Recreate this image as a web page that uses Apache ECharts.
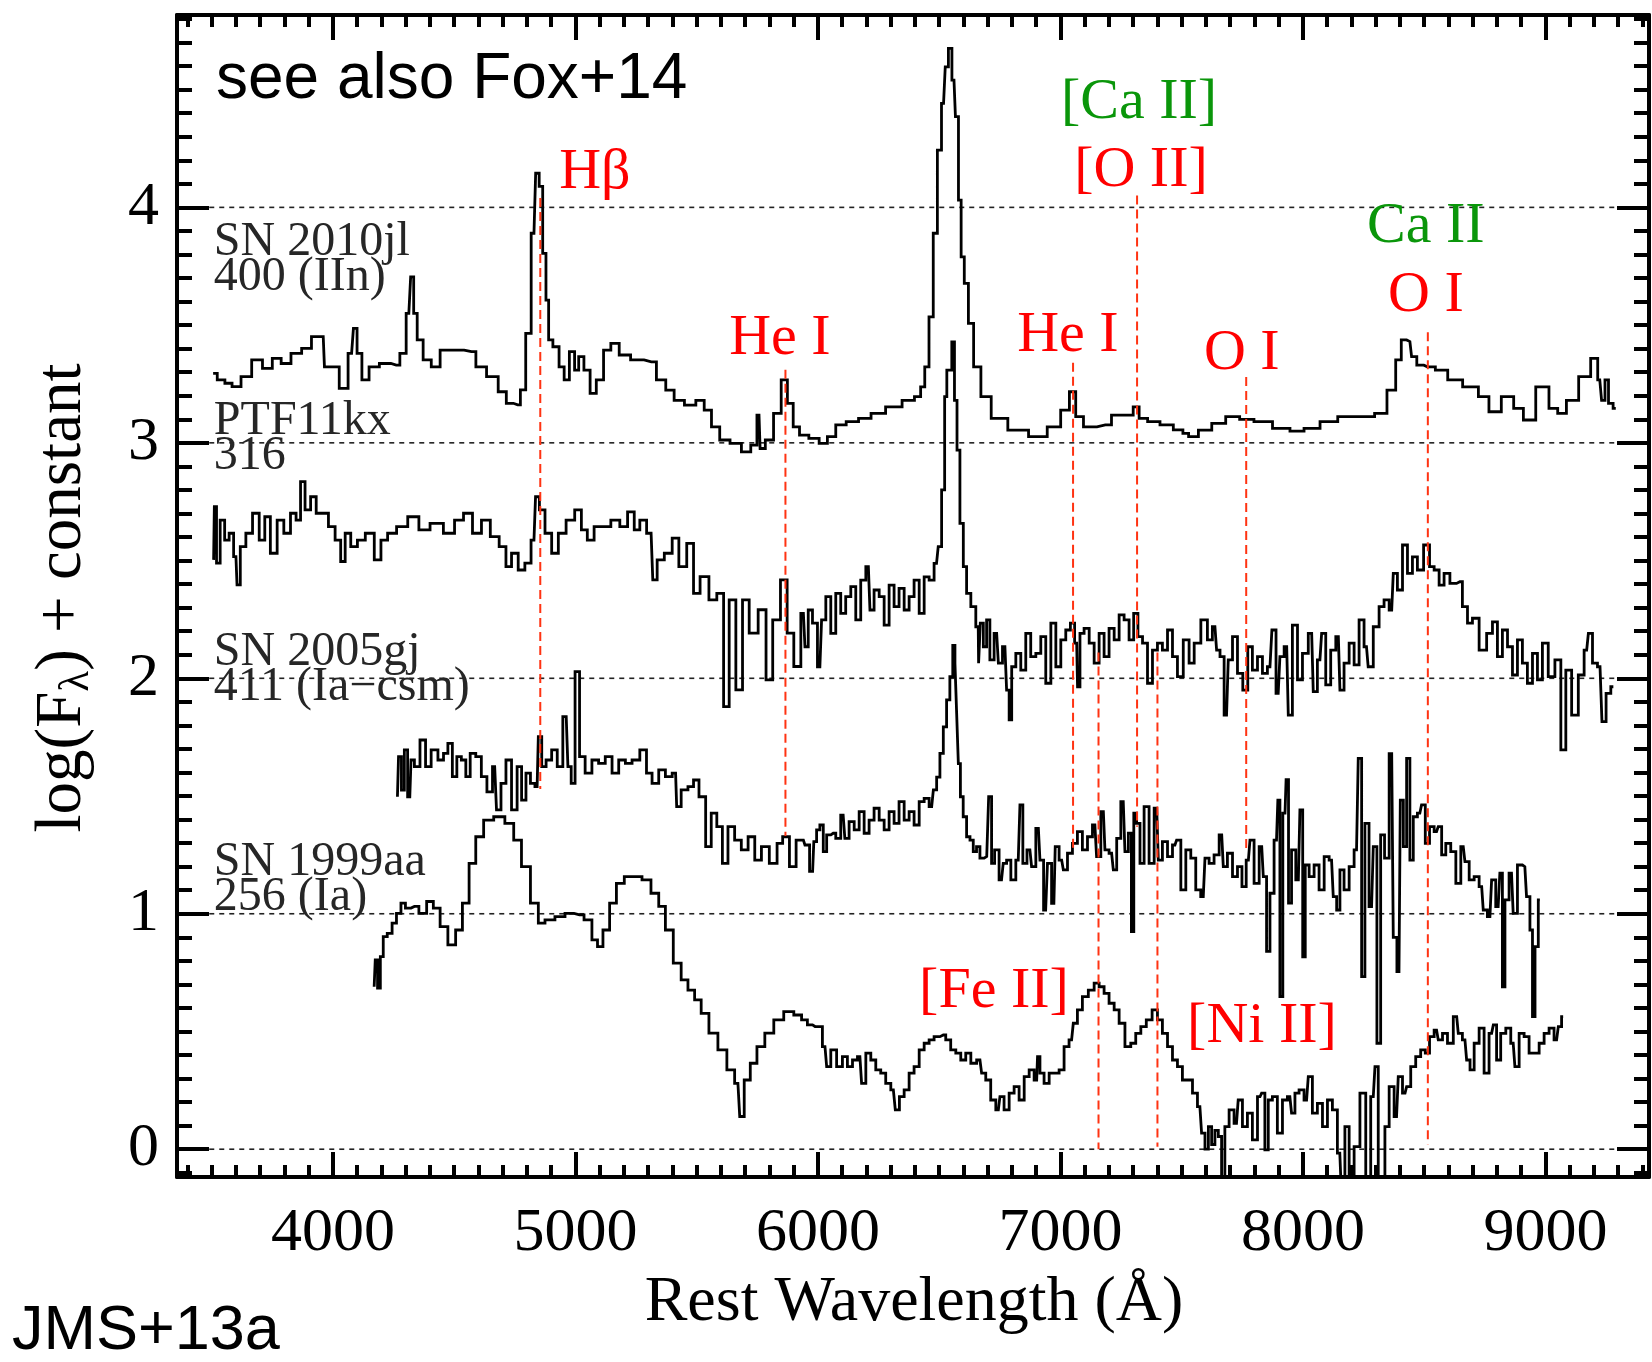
<!DOCTYPE html>
<html>
<head>
<meta charset="utf-8">
<script src="https://cdn.jsdelivr.net/npm/echarts@6/dist/echarts.min.js"></script>
<style>
  html, body { margin: 0; padding: 0; background: #ffffff; }
  #chart { width: 1652px; height: 1362px; }
</style>
</head>
<body>
<div id="chart"></div>
<script>
// ---- Spectra: rest wavelength (Angstrom) and log(F_lambda) + constant ----
const sn2010jlWave = [3506,3540,3569,3599,3643,3687,3732,3768,3805,3849,3893,3930,3960,3970,4004,4048,4077,4092,4107,4132,4166,4217,4261,4291,4313,4328,4338,4357,4387,4424,4460,4511,4571,4608,4659,4704,4726,4762,4784,4806,4829,4843,4858,4872,4885,4894,4920,4945,4962,4988,5005,5022,5048,5073,5099,5133,5159,5202,5253,5313,5355,5390,5424,5475,5518,5544,5578,5612,5663,5706,5740,5757,5766,5800,5834,5863,5885,5911,5937,5988,6022,6056,6091,6142,6193,6245,6313,6381,6415,6432,6449,6467,6484,6501,6518,6532,6544,6561,6573,6586,6595,6612,6629,6655,6689,6740,6826,6911,6980,7022,7052,7074,7116,7185,7236,7287,7313,7336,7383,7438,7493,7517,7540,7598,7650,7713,7765,7831,7918,7975,8034,8107,8180,8266,8325,8368,8397,8414,8441,8455,8484,8513,8579,8615,8702,8745,8789,8847,8891,8927,8993,9036,9065,9108,9166,9207,9224,9239,9252,9268,9290];
const sn2010jlFlux = [3.295,3.267,3.253,3.239,3.281,3.352,3.316,3.359,3.337,3.38,3.401,3.451,3.451,3.323,3.323,3.231,3.38,3.486,3.38,3.267,3.323,3.337,3.33,3.38,3.55,3.705,3.55,3.437,3.352,3.323,3.394,3.394,3.387,3.323,3.281,3.217,3.168,3.161,3.225,3.465,3.89,4.145,4.089,3.805,3.606,3.437,3.408,3.323,3.267,3.387,3.309,3.366,3.309,3.21,3.267,3.394,3.422,3.373,3.352,3.344,3.267,3.224,3.18,3.16,3.18,3.139,3.068,3.012,2.998,2.962,2.99,3.118,2.976,3.012,3.125,3.267,3.168,3.068,3.033,3.019,2.998,3.026,3.076,3.09,3.104,3.125,3.153,3.18,3.196,3.238,3.323,3.535,3.89,4.243,4.442,4.597,4.675,4.54,4.385,4.031,3.79,3.677,3.507,3.323,3.196,3.104,3.054,3.026,3.068,3.139,3.217,3.111,3.068,3.076,3.118,3.118,3.153,3.104,3.09,3.076,3.055,3.04,3.026,3.054,3.083,3.111,3.1,3.09,3.061,3.05,3.061,3.09,3.111,3.111,3.125,3.224,3.352,3.437,3.43,3.366,3.33,3.323,3.309,3.267,3.238,3.196,3.132,3.196,3.146,3.097,3.238,3.146,3.125,3.18,3.281,3.359,3.267,3.18,3.267,3.168,3.146];

const ptf11kxWave = [3508,3514,3526,3544,3563,3581,3600,3609,3627,3655,3682,3710,3728,3756,3784,3811,3839,3857,3876,3894,3922,3940,3968,3995,4023,4041,4060,4087,4115,4152,4189,4207,4244,4281,4336,4373,4428,4483,4520,4557,4594,4631,4667,4704,4723,4750,4778,4805,4829,4842,4861,4888,4916,4943,4980,5014,5035,5063,5091,5127,5165,5201,5229,5256,5275,5312,5326,5348,5385,5413,5440,5478,5496,5532,5569,5597,5625,5643,5680,5698,5735,5772,5800,5827,5864,5882,5919,5940,5953,5967,5988,6008,6022,6043,6063,6084,6104,6125,6146,6166,6187,6208,6221,6242,6263,6283,6304,6324,6345,6366,6386,6407,6428,6448,6469,6489,6503,6517,6528,6535,6547,6557,6569,6578,6593,6606,6620,6641,6661,6664,6675,6689,6702,6716,6737,6751,6771,6785,6792,6806,6826,6847,6867,6888,6909,6929,6950,6971,6991,7012,7032,7050,7067,7074,7087,7108,7129,7149,7170,7190,7211,7232,7252,7273,7293,7311,7328,7349,7369,7390,7410,7431,7452,7472,7493,7520,7541,7562,7596,7616,7637,7651,7665,7685,7699,7720,7740,7764,7781,7802,7823,7843,7864,7880,7898,7912,7933,7946,7967,7988,8008,8036,8049,8070,8084,8104,8125,8146,8159,8180,8201,8221,8242,8262,8276,8304,8324,8345,8366,8379,8400,8421,8441,8462,8482,8513,8531,8551,8572,8592,8620,8647,8668,8689,8709,8744,8771,8792,8812,8833,8854,8874,8895,8915,8936,8957,8977,8998,9025,9053,9074,9094,9122,9149,9170,9184,9204,9225,9241,9259,9280];
const ptf11kxFlux = [2.503,2.729,2.489,2.672,2.587,2.616,2.517,2.397,2.559,2.616,2.701,2.587,2.686,2.531,2.672,2.616,2.701,2.672,2.835,2.715,2.771,2.701,2.701,2.644,2.587,2.496,2.616,2.559,2.587,2.616,2.503,2.587,2.616,2.644,2.686,2.63,2.658,2.616,2.672,2.701,2.616,2.672,2.602,2.559,2.474,2.531,2.46,2.489,2.587,2.771,2.715,2.616,2.531,2.616,2.672,2.715,2.63,2.587,2.644,2.644,2.672,2.644,2.707,2.63,2.672,2.616,2.418,2.503,2.531,2.595,2.474,2.573,2.361,2.432,2.333,2.361,1.88,2.333,1.951,2.333,2.192,2.291,1.993,2.248,2.418,2.192,2.05,2.276,2.134,2.29,2.234,2.049,2.248,2.347,2.191,2.361,2.276,2.347,2.389,2.248,2.417,2.474,2.29,2.375,2.347,2.226,2.396,2.304,2.382,2.29,2.347,2.417,2.276,2.431,2.417,2.488,2.559,2.8,3.196,3.309,3.309,3.429,3.18,2.969,2.658,2.474,2.361,2.304,2.219,2.064,2.234,2.134,2.248,2.078,2.191,2.064,2.134,1.95,1.823,2.049,2.106,2.035,2.191,2.092,2.106,2.177,1.979,2.234,2.049,2.163,2.205,2.234,2.149,1.964,2.191,2.212,2.149,2.064,2.191,2.092,2.212,2.163,2.269,2.248,2.163,2.276,2.177,2.149,1.979,2.12,2.149,2.12,2.205,2.092,2.007,2.163,2.064,2.149,2.248,2.163,2.219,2.12,2.092,1.844,2.078,2.177,2.021,1.95,2.134,2.035,2.092,2.021,2.049,2.205,1.936,2.092,2.134,1.844,2.226,1.993,2.106,2.191,1.943,2.078,2.191,1.972,2.12,2.177,1.95,2.064,2.149,2.057,2.248,2.134,2.049,2.219,2.304,2.333,2.29,2.446,2.375,2.566,2.446,2.516,2.46,2.566,2.474,2.46,2.396,2.446,2.403,2.41,2.304,2.234,2.255,2.12,2.191,2.24,2.092,2.205,2.134,2.014,2.163,2.064,1.979,2.106,1.993,2.149,2.007,2.078,1.696,2.035,1.844,2.014,2.12,2.191,2.064,2.049,1.816,1.936,1.964];

const sn2005gjWave = [4266,4275,4290,4299,4317,4327,4345,4373,4391,4419,4447,4465,4483,4502,4520,4539,4557,4575,4603,4621,4649,4667,4682,4704,4723,4750,4769,4787,4805,4824,4842,4852,4870,4888,4916,4934,4962,4976,4989,5008,5026,5054,5082,5109,5137,5165,5192,5220,5247,5284,5302,5330,5357,5385,5413,5422,5450,5478,5496,5523,5551,5569,5597,5615,5643,5670,5698,5726,5753,5781,5818,5845,5864,5901,5919,5940,5953,5978,5988,6001,6015,6029,6043,6063,6084,6104,6118,6139,6160,6180,6201,6221,6242,6263,6283,6304,6324,6345,6366,6386,6407,6428,6448,6469,6483,6496,6510,6524,6537,6551,6561,6569,6575,6583,6592,6606,6620,6634,6647,6661,6675,6696,6712,6720,6737,6757,6771,6785,6806,6826,6840,6850,6874,6888,6909,6922,6939,6954,6973,6984,7005,7019,7039,7060,7080,7101,7122,7142,7156,7177,7190,7211,7225,7239,7259,7273,7287,7298,7307,7321,7335,7355,7376,7397,7410,7431,7452,7472,7486,7507,7527,7548,7568,7589,7603,7623,7644,7665,7678,7699,7720,7740,7757,7775,7788,7809,7830,7843,7857,7871,7891,7902,7908,7926,7935,7946,7960,7981,7994,8004,8015,8036,8056,8077,8098,8118,8132,8146,8159,8180,8201,8221,8235,8249,8262,8283,8297,8313,8328,8345,8366,8379,8396,8407,8421,8434,8448,8462,8482,8496,8513,8531,8551,8565,8579,8599,8620,8641,8661,8675,8696,8716,8737,8750,8771,8785,8805,8819,8826,8840,8860,8874,8895,8915,8929,8943,8950,8964,8977];
const sn2005gjFlux = [1.497,1.667,1.525,1.696,1.497,1.653,1.625,1.738,1.625,1.696,1.653,1.681,1.724,1.582,1.667,1.653,1.582,1.681,1.667,1.582,1.518,1.625,1.441,1.554,1.653,1.441,1.625,1.483,1.597,1.554,1.54,1.752,1.625,1.653,1.696,1.625,1.837,1.625,1.554,2.028,1.667,1.597,1.653,1.639,1.667,1.597,1.653,1.639,1.653,1.696,1.597,1.554,1.611,1.582,1.597,1.455,1.526,1.54,1.568,1.497,1.285,1.427,1.37,1.214,1.37,1.313,1.271,1.327,1.228,1.285,1.214,1.299,1.327,1.2,1.313,1.313,1.292,1.18,1.306,1.356,1.377,1.264,1.335,1.342,1.32,1.419,1.32,1.391,1.356,1.434,1.342,1.398,1.448,1.398,1.356,1.434,1.384,1.476,1.398,1.434,1.377,1.476,1.49,1.455,1.526,1.58,1.681,1.794,1.908,2.007,2.14,2.064,1.851,1.638,1.497,1.412,1.327,1.313,1.264,1.285,1.236,1.243,1.497,1.214,1.271,1.144,1.214,1.228,1.144,1.228,1.462,1.214,1.271,1.2,1.363,1.228,1.016,1.214,1.044,1.285,1.228,1.186,1.257,1.299,1.349,1.271,1.327,1.377,1.243,1.434,1.271,1.257,1.186,1.32,1.476,1.264,1.342,0.924,1.427,1.384,1.214,1.455,1.214,1.448,1.228,1.306,1.243,1.292,1.313,1.101,1.271,1.236,1.101,1.073,1.236,1.214,1.25,1.335,1.2,1.257,1.158,1.2,1.115,1.228,1.313,1.129,1.285,1.158,0.84,1.087,1.313,1.483,0.648,1.427,1.57,1.045,1.271,1.144,1.441,0.817,1.207,1.158,1.207,1.101,1.243,1.228,1.073,1.016,1.186,1.101,1.2,1.271,1.66,0.733,1.384,1.03,1.285,0.45,1.335,1.236,1.68,0.9,0.754,1.483,1.285,1.66,1.228,1.412,1.427,1.462,1.299,1.37,1.349,1.37,1.25,1.299,1.264,1.129,1.285,1.221,1.144,1.158,1.115,1.016,0.988,1.144,1.03,1.172,0.69,1.059,1.172,1.002,1.207,1.2,1.073,0.931,0.563,0.86,1.059];

const sn1999aaWave = [4170,4179,4189,4202,4213,4235,4253,4271,4290,4308,4336,4373,4400,4428,4456,4492,4520,4548,4575,4603,4640,4686,4732,4759,4796,4833,4861,4888,4943,4971,5017,5054,5082,5100,5127,5155,5183,5220,5256,5293,5330,5357,5385,5422,5450,5478,5505,5532,5569,5606,5643,5670,5685,5707,5735,5762,5800,5836,5882,5919,5946,5967,5988,6008,6029,6043,6063,6091,6111,6132,6153,6173,6187,6208,6228,6249,6269,6290,6311,6327,6345,6366,6386,6407,6428,6448,6469,6489,6517,6537,6558,6579,6599,6620,6641,6668,6682,6702,6723,6744,6757,6778,6799,6819,6840,6861,6881,6902,6909,6922,6943,6964,6984,7005,7025,7046,7060,7080,7101,7129,7149,7170,7190,7211,7232,7252,7280,7300,7321,7342,7366,7390,7410,7431,7452,7472,7493,7513,7534,7555,7575,7589,7603,7617,7630,7644,7658,7671,7685,7706,7726,7740,7761,7781,7802,7823,7836,7850,7864,7884,7905,7926,7946,7960,7974,7994,8015,8029,8049,8070,8091,8111,8132,8152,8166,8180,8201,8221,8249,8269,8290,8304,8317,8331,8345,8366,8386,8400,8421,8434,8455,8475,8496,8513,8531,8551,8565,8586,8606,8634,8647,8668,8682,8696,8716,8737,8757,8778,8792,8805,8826,8847,8867,8881,8902,8922,8943,8964,8984,9005,9025,9046,9060,9073];
const sn1999aaFlux = [0.69,0.804,0.684,0.818,0.903,0.917,0.96,1.002,1.045,1.024,1.031,1.002,1.052,1.024,0.945,0.868,0.931,1.045,1.214,1.327,1.398,1.412,1.384,1.313,1.2,1.045,0.96,0.974,0.988,1.002,0.995,0.974,0.889,0.86,0.931,1.045,1.129,1.158,1.158,1.144,1.087,1.031,0.931,0.79,0.719,0.676,0.634,0.577,0.493,0.422,0.337,0.28,0.139,0.294,0.365,0.436,0.493,0.549,0.584,0.57,0.549,0.528,0.521,0.521,0.436,0.351,0.422,0.351,0.393,0.351,0.379,0.393,0.28,0.408,0.379,0.337,0.323,0.28,0.252,0.167,0.223,0.252,0.323,0.351,0.422,0.45,0.464,0.478,0.485,0.464,0.422,0.408,0.379,0.408,0.365,0.379,0.323,0.294,0.209,0.167,0.223,0.167,0.238,0.266,0.209,0.308,0.337,0.294,0.393,0.323,0.28,0.323,0.323,0.337,0.436,0.464,0.535,0.592,0.648,0.676,0.705,0.69,0.662,0.62,0.592,0.535,0.436,0.45,0.492,0.521,0.549,0.592,0.549,0.492,0.436,0.379,0.351,0.294,0.294,0.238,0.181,0.068,0.0,0.096,0.02,0.08,0.054,-0.2,0.096,0.167,0.11,0.209,0.096,0.153,0.04,0.223,0.238,-0.003,0.209,0.223,0.068,0.209,0.223,0.153,0.238,0.252,0.209,0.308,0.153,0.195,0.096,0.209,0.167,-0.017,-0.2,0.096,-0.2,0.011,0.238,-0.2,0.223,0.351,-0.2,-0.2,0.096,0.266,0.138,0.308,0.238,0.266,0.351,0.393,0.422,0.408,0.478,0.506,0.464,0.492,0.45,0.563,0.492,0.464,0.379,0.337,0.45,0.514,0.323,0.492,0.528,0.379,0.492,0.514,0.45,0.351,0.492,0.478,0.408,0.408,0.45,0.492,0.514,0.464,0.521,0.563];

// ---- Spectrum identifiers (phase in days and type) ----
const spectrumNames = ['SN 2010jl\n400 (IIn)', 'PTF11kx\n316', 'SN 2005gj\n411 (Ia\u2212csm)', 'SN 1999aa\n256 (Ia)'];
const spectrumNameWave = [3509, 3509, 3509, 3509];
const spectrumNameLevel = [3.775, 3.016, 2.035, 1.144];

// ---- Line identifications: marker wavelength and vertical extent ----
const lineWave = [4855, 5866, 7052, 7157, 7316, 7400, 7766, 8515];
const lineTop = [4.04, 3.31, 3.34, 2.11, 4.05, 2.11, 3.28, 3.47];
const lineBottom = [1.53, 1.33, 1.26, 0.0, 1.37, 0.01, 1.26, 0.02];

// ---- Ion labels: text, label centre wavelength and level ----
const ionNames = ['H\u03b2', 'He I', 'He I', '[Ca II]', '[O II]', 'O I', 'Ca II', 'O I', '[Fe II]', '[Ni II]'];
const ionWave = [5080, 5843, 7031, 7324, 7332, 7748, 8507, 8507, 6726, 7831];
const ionLevel = [4.148, 3.443, 3.456, 4.445, 4.156, 3.379, 3.918, 3.625, 0.670, 0.521];

// ---- Reference levels and axis ranges ----
const refLevels = [0, 1, 2, 3, 4];
const refStart = 3490, refEnd = 9300;
const X_MIN = 3357, X_MAX = 9427;
const Y_MIN = -0.118, Y_MAX = 4.817;

const SERIF = '"Liberation Serif", "Times New Roman", Times, serif';
const SANS = '"Liberation Sans", Arial, Helvetica, sans-serif';

function pairs(w, f) { return w.map((x, i) => [x, f[i]]); }

const spectra = [
  pairs(sn2010jlWave, sn2010jlFlux),
  pairs(ptf11kxWave, ptf11kxFlux),
  pairs(sn2005gjWave, sn2005gjFlux),
  pairs(sn1999aaWave, sn1999aaFlux)
];

const series = [];

// dotted reference levels
refLevels.forEach(v => {
  series.push({
    type: 'line', data: [[refStart, v], [refEnd, v]], showSymbol: false, silent: true, z: 2,
    lineStyle: { color: '#222', width: 1.6, type: [5, 5] }
  });
});

// spectra drawn as histograms
spectra.forEach(d => {
  series.push({
    type: 'line', step: 'middle', data: d, showSymbol: false, silent: true, z: 4,
    lineStyle: { color: '#000', width: 2.8, join: 'miter' }
  });
});

// red dashed markers of line positions
lineWave.forEach((w, i) => {
  series.push({
    type: 'line', data: [[w, lineTop[i]], [w, lineBottom[i]]], showSymbol: false, silent: true, z: 6,
    lineStyle: { color: '#ff3312', width: 2, type: [9, 5] }
  });
});

// text placed at a point: invisible symbol with a fully opaque label
function textSeries(items, labelStyle) {
  return {
    type: 'scatter', data: items, symbol: 'circle', symbolSize: 1, silent: true, z: 7,
    itemStyle: { color: 'rgba(0,0,0,0)', opacity: 1 },
    label: Object.assign({ show: true, position: 'inside', formatter: '{b}', verticalAlign: 'middle', opacity: 1 }, labelStyle)
  };
}

// ion labels (calcium in green, the rest in red)
function ionItems(isCa) {
  const data = [];
  ionNames.forEach((n, i) => {
    if ((n.indexOf('Ca') >= 0) === isCa) data.push({ name: n, value: [ionWave[i], ionLevel[i]] });
  });
  return data;
}
series.push(textSeries(ionItems(false), { align: 'center', fontFamily: SERIF, fontSize: 58, color: '#ff0000' }));
series.push(textSeries(ionItems(true), { align: 'center', fontFamily: SERIF, fontSize: 58, color: '#0a960a' }));

// spectrum identifiers
series.push(textSeries(
  spectrumNames.map((n, i) => ({ name: n, value: [spectrumNameWave[i], spectrumNameLevel[i]] })),
  { align: 'left', fontFamily: SERIF, fontSize: 48, lineHeight: 35, color: '#262626' }
));

function frameAxis(kind, pos, withLabels) {
  const isX = kind === 'x';
  return {
    type: 'value', position: pos,
    min: isX ? X_MIN : Y_MIN, max: isX ? X_MAX : Y_MAX,
    splitNumber: isX ? 6 : 5,
    axisLine: { show: true, onZero: false, lineStyle: { color: '#000', width: 4 } },
    axisTick: { show: true, inside: true, length: isX ? 25 : 32, lineStyle: { color: '#000', width: 4 } },
    minorTick: { show: true, splitNumber: 10, length: isX ? 12 : 15, lineStyle: { color: '#000', width: 4 } },
    splitLine: { show: false },
    minorSplitLine: { show: false },
    axisLabel: {
      show: withLabels, showMinLabel: false, showMaxLabel: false,
      fontFamily: SERIF, fontSize: 62, color: '#000',
      margin: isX ? 26 : 18,
      formatter: v => String(v)
    }
  };
}

const option = {
  animation: false,
  backgroundColor: '#ffffff',
  grid: { left: 177, right: 3, top: 15, bottom: 185, containLabel: false, outerBoundsMode: 'none' },
  xAxis: [frameAxis('x', 'bottom', true), frameAxis('x', 'top', false)],
  yAxis: [frameAxis('y', 'left', true), frameAxis('y', 'right', false)],
  series: series,
  graphic: [
    {
      type: 'text', x: 216, y: 80,
      style: { text: 'see also Fox+14', fontFamily: SANS, fontSize: 64, fill: '#000', align: 'left', verticalAlign: 'middle' }
    },
    {
      type: 'text', x: 12, y: 1332,
      style: { text: 'JMS+13a', fontFamily: SANS, fontSize: 63, fill: '#000', align: 'left', verticalAlign: 'middle' }
    },
    {
      type: 'text', x: 914, y: 1303,
      style: { text: 'Rest Wavelength (\u00c5)', fontFamily: SERIF, fontSize: 64, fill: '#000', align: 'center', verticalAlign: 'middle' }
    },
    {
      type: 'text', x: 63, y: 598, rotation: Math.PI / 2,
      style: {
        text: '{a|log(F}{s|\u03bb}{a|) + constant}',
        align: 'center', verticalAlign: 'middle',
        rich: {
          a: { fontFamily: SERIF, fontSize: 65, lineHeight: 70, fill: '#000' },
          s: { fontFamily: SERIF, fontSize: 43, lineHeight: 36, verticalAlign: 'bottom', fill: '#000' }
        }
      }
    }
  ]
};

const chart = echarts.init(document.getElementById('chart'), null, { renderer: 'canvas', width: 1652, height: 1362 });
chart.setOption(option);
</script>
</body>
</html>
